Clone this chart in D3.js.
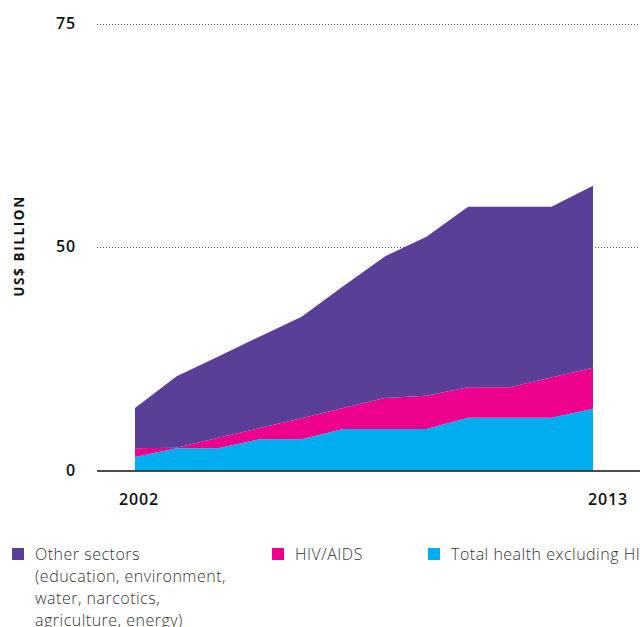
<!DOCTYPE html>
<html lang="en">
	<head>
		<meta charset="utf-8">
		<title>Aid by sector</title>
		<style>
			body { margin: 0; background: #fff; }
			text { font-family: "Open Sans", Lato, sans-serif; fill: #111; }
			.tick-label { font-size: 16px; font-weight: 600; letter-spacing: 0.8px; }
			.y-title { font-size: 13.5px; font-weight: 700; letter-spacing: 1.6px; }
			.legend text { font-size: 16px; font-weight: 300; letter-spacing: 0.5px; fill: #333; }
		</style>
	</head>
	<body>
		<script src="https://cdn.jsdelivr.net/npm/d3@7"></script>
		<script>
			// values, US$ billion
			var years = [2002, 2003, 2004, 2005, 2006, 2007, 2008, 2009, 2010, 2011, 2012, 2013];
			var healthExHiv = [3.0, 5.0, 5.0, 7.0, 7.0, 9.3, 9.3, 9.3, 11.8, 11.8, 11.8, 13.8];
			var hivAids = [2.0, 0.1, 2.3, 2.5, 4.7, 4.7, 6.9, 7.4, 6.8, 6.8, 9.0, 9.2];
			var otherSectors = [9.0, 16.0, 18.2, 20.5, 22.7, 27.2, 31.7, 35.6, 40.4, 40.4, 38.2, 40.7];

			// tick positions and what the original prints at them
			var yTickValues = [0, 50, 100];
			var yTickLabels = ["0", "50", "75"];
			var xTickValues = [2002, 2013];

			var seriesKeys = ["health", "hiv", "other"];
			var seriesColors = ["#00ADEE", "#EC008C", "#5A3F99"];
			var legendLabels = [
				["Other sectors", "(education, environment,", "water, narcotics,", "agriculture, energy)"],
				["HIV/AIDS"],
				["Total health excluding HIV/AIDS"]
			];
			var legendColors = ["#5A3F99", "#EC008C", "#00ADEE"];

			var w = 640, h = 627;

			var svg = d3.select("body").append("svg")
				.attr("width", w)
				.attr("height", h);

			var table = years.map(function(y, i) {
				return { year: y, health: healthExHiv[i], hiv: hivAids[i], other: otherSectors[i] };
			});

			var stacked = d3.stack().keys(seriesKeys)(table);

			var xScale = d3.scaleLinear()
				.domain([2002, 2013])
				.range([135, 593]);

			var yScale = d3.scaleLinear()
				.domain([0, 100])
				.range([470.5, 23.5]);

			// dotted gridlines
			svg.selectAll("line.grid")
				.data(yTickValues.filter(function(d) { return d > 0; }))
				.enter()
				.append("line")
				.attr("class", "grid")
				.attr("x1", 97)
				.attr("x2", w)
				.attr("y1", function(d) { return Math.round(yScale(d)) + 0.5; })
				.attr("y2", function(d) { return Math.round(yScale(d)) + 0.5; })
				.attr("stroke", "#555")
				.attr("stroke-width", 1)
				.attr("stroke-dasharray", "1,2");

			var area = d3.area()
				.x(function(d) { return xScale(d.data.year); })
				.y0(function(d) { return yScale(d[0]); })
				.y1(function(d) { return yScale(d[1]); });

			svg.selectAll("path.layer")
				.data(stacked)
				.enter()
				.append("path")
				.attr("class", "layer")
				.attr("d", area)
				.attr("fill", function(d, i) { return seriesColors[i]; });

			// baseline
			svg.append("line")
				.attr("x1", 97)
				.attr("x2", w)
				.attr("y1", yScale(0) + 0.5)
				.attr("y2", yScale(0) + 0.5)
				.attr("stroke", "#111")
				.attr("stroke-width", 1.5);

			// y axis labels
			svg.selectAll("text.ytick")
				.data(yTickValues)
				.enter()
				.append("text")
				.attr("class", "tick-label ytick")
				.attr("x", 76)
				.attr("y", function(d) { return yScale(d) + 5; })
				.attr("text-anchor", "end")
				.text(function(d, i) { return yTickLabels[i]; });

			// x axis labels
			svg.selectAll("text.xtick")
				.data(xTickValues)
				.enter()
				.append("text")
				.attr("class", "tick-label xtick")
				.attr("x", function(d, i) { return xScale(d) + (i === 0 ? 4 : 15); })
				.attr("y", 505)
				.attr("text-anchor", "middle")
				.text(function(d) { return d; });

			svg.append("text")
				.attr("class", "y-title")
				.attr("transform", "translate(24, 246) rotate(-90)")
				.attr("text-anchor", "middle")
				.text("US$ BILLION");

			// legend
			var legendX = [12, 272, 428];
			var legend = svg.selectAll("g.legend")
				.data(legendLabels)
				.enter()
				.append("g")
				.attr("class", "legend")
				.attr("transform", function(d, i) { return "translate(" + legendX[i] + ", 548)"; });

			legend.append("rect")
				.attr("width", 12)
				.attr("height", 12)
				.attr("fill", function(d, i) { return legendColors[i]; });

			legend.selectAll("text")
				.data(function(d) { return d; })
				.enter()
				.append("text")
				.attr("x", 23)
				.attr("y", function(d, i) { return 12 + i * 22; })
				.text(function(d) { return d; });
		</script>
	</body>
</html>
